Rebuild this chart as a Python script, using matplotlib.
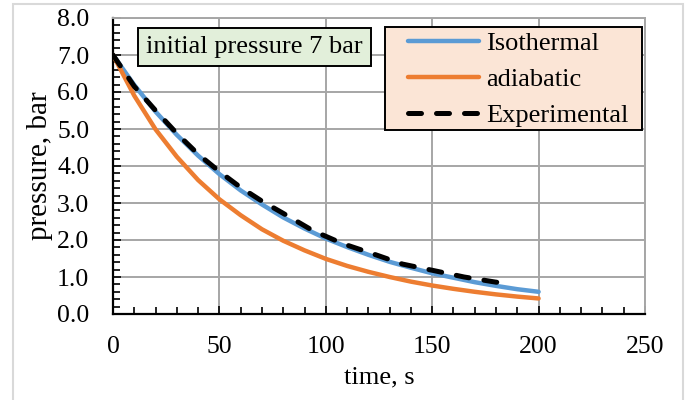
import matplotlib.pyplot as plt
from matplotlib.patches import Rectangle
from matplotlib.ticker import MultipleLocator

plt.rcParams['font.family'] = ['Liberation Serif', 'DejaVu Serif']

# time, s
t_model = [0, 10, 20, 30, 40, 50, 60, 70, 80, 90, 100, 110, 120, 130, 140, 150, 160, 170, 180, 190, 200]
p_isothermal = [7.0, 6.19, 5.47, 4.84, 4.28, 3.78, 3.34, 2.96, 2.61, 2.31, 2.04, 1.81, 1.60, 1.41, 1.25, 1.10, 0.98, 0.86, 0.76, 0.67, 0.60]
p_adiabatic = [7.0, 5.90, 4.99, 4.25, 3.62, 3.10, 2.67, 2.29, 1.98, 1.72, 1.49, 1.30, 1.14, 1.00, 0.875, 0.77, 0.68, 0.60, 0.53, 0.47, 0.42]

t_exp = [0, 10, 20, 30, 40, 50, 60, 70, 80, 94, 108, 122, 136, 151, 165, 180, 185]
p_exp = [7.0, 6.15, 5.5, 4.88, 4.32, 3.85, 3.42, 3.05, 2.72, 2.25, 1.9, 1.63, 1.35, 1.17, 1.0, 0.86, 0.84]

W, H = 691, 400
x0, x1, y0, y1 = 113, 645, 18, 314  # axes box in pixels

fig = plt.figure(figsize=(W / 100, H / 100), dpi=100)
ax = fig.add_axes([x0 / W, 1 - y1 / H, (x1 - x0) / W, (y1 - y0) / H])


def ax_frac(px, py):
    return (px - x0) / (x1 - x0), (y1 - py) / (y1 - y0)


# grey chart-area frame
fig.patches.append(Rectangle((13 / W, -0.05), 670 / W, 1.05 - 4 / H, transform=fig.transFigure,
                             fill=False, edgecolor='#d9d9d9', linewidth=1.5))

ax.plot(t_model, p_isothermal, color='#5b9bd5', lw=3.2, label='Isothermal', zorder=3, solid_capstyle='round')
ax.plot(t_model, p_adiabatic, color='#ed7d31', lw=3.2, label='adiabatic', zorder=3, solid_capstyle='round')
ax.plot(t_exp, p_exp, color='black', lw=3.6, ls=(0, (2.6, 3.0)), dash_capstyle='round',
        label='Experimental', zorder=4)

ax.set_xlim(0, 250)
ax.set_ylim(0, 8)
ax.xaxis.set_major_locator(MultipleLocator(50))
ax.xaxis.set_minor_locator(MultipleLocator(10))
ax.yaxis.set_major_locator(MultipleLocator(1))
ax.yaxis.set_minor_locator(MultipleLocator(0.2))
ax.yaxis.set_major_formatter(lambda v, pos: f'{v:.1f}')

ax.grid(True, which='major', color='#a6a6a6', lw=1.4)
ax.set_axisbelow(True)
for s in ['top', 'right']:
    ax.spines[s].set_color('#a6a6a6')
    ax.spines[s].set_linewidth(1.4)
for s in ['left', 'bottom']:
    ax.spines[s].set_color('black')
    ax.spines[s].set_linewidth(1.6)

ax.tick_params(which='both', direction='in', color='black', width=1.2, labelsize=18.5)
ax.tick_params(which='major', length=6)
ax.tick_params(which='minor', length=5)
ax.tick_params(axis='x', which='major', pad=16)
ax.tick_params(axis='y', which='major', pad=17)

ax.set_xlabel('time, s', fontsize=19, labelpad=6)
ax.set_ylabel('pressure, bar', fontsize=21, labelpad=3)

tx, ty = ax_frac(146, 47)
ax.text(tx, ty, 'initial pressure 7 bar', transform=ax.transAxes, fontsize=19,
        va='center', ha='left', zorder=6,
        bbox=dict(boxstyle='square,pad=0.3', facecolor='#e2efda', edgecolor='black', lw=1.4))

# legend box drawn as a patch so its padding can follow the reference
bx0, by1 = ax_frac(385, 27)
bx1, by0 = ax_frac(642, 130)
ax.add_patch(Rectangle((bx0, by0), bx1 - bx0, by1 - by0, transform=ax.transAxes,
                       facecolor='#fbe5d6', edgecolor='black', lw=1.4, zorder=5))

lx, ly = ax_frac(408, 32)
leg = ax.legend(loc='upper left', fontsize=19, frameon=False,
                handlelength=2.7, handletextpad=0.25, borderpad=0, labelspacing=0.47,
                borderaxespad=0, bbox_to_anchor=(lx, ly))
leg.set_zorder(6)

fig.savefig('out.png', dpi=100)
